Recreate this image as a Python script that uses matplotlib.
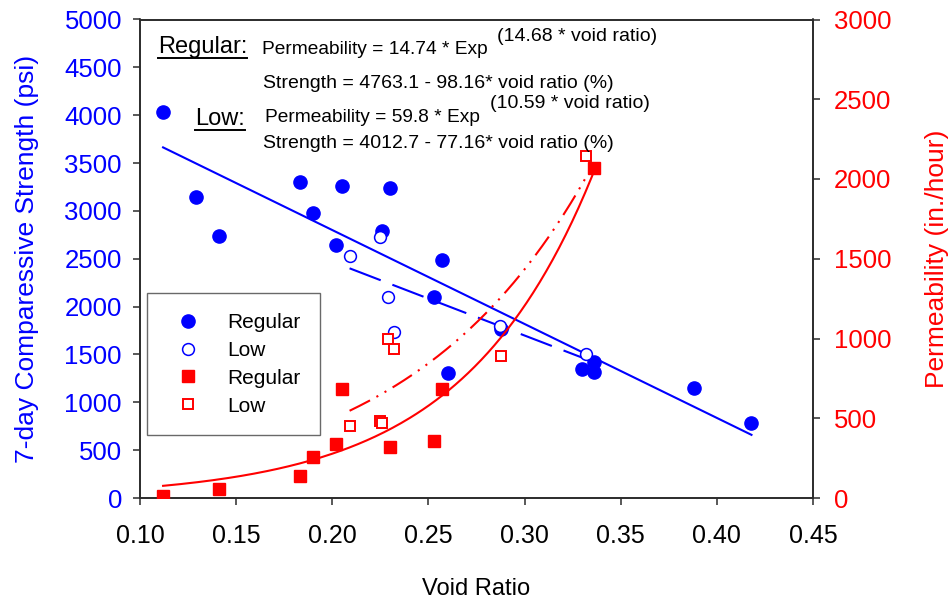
import numpy as np
import matplotlib
matplotlib.use("Agg")
import matplotlib.pyplot as plt
from matplotlib.lines import Line2D

plt.rcParams['font.family'] = ['Liberation Sans', 'DejaVu Sans']

# ---- data -------------------------------------------------------------
reg_str_vr = [0.112, 0.129, 0.141, 0.183, 0.190, 0.202, 0.205, 0.226, 0.230,
              0.253, 0.257, 0.260, 0.288, 0.330, 0.336, 0.336, 0.388, 0.418]
reg_str = [4030, 3148, 2741, 3305, 2975, 2647, 3263, 2790, 3236,
           2103, 2487, 1309, 1766, 1351, 1425, 1313, 1146, 780]

low_str_vr = [0.209, 0.225, 0.229, 0.232, 0.287, 0.332]
low_str = [2529, 2730, 2103, 1738, 1797, 1508]

reg_perm_vr = [0.112, 0.141, 0.183, 0.190, 0.202, 0.205, 0.230, 0.253, 0.257, 0.336]
reg_perm = [12, 56, 140, 255, 339, 681, 322, 355, 681, 2071]

low_perm_vr = [0.209, 0.225, 0.226, 0.229, 0.232, 0.288, 0.332]
low_perm = [451, 483, 468, 995, 936, 892, 2144]

# fitted relations (void ratio in percent for strength)
reg_str_fit = (4763.1, 98.16)
low_str_fit = (4012.7, 77.16)
reg_perm_fit = (14.74, 14.68)
low_perm_fit = (59.8, 10.59)

x_ticks = [0.10, 0.15, 0.20, 0.25, 0.30, 0.35, 0.40, 0.45]
y_ticks = list(range(0, 5001, 500))
y2_ticks = list(range(0, 3001, 500))

BLUE = '#0000FF'
RED = '#FF0000'
SPINE = '#2b2b2b'

W, H = 950, 601
fig = plt.figure(figsize=(W / 100, H / 100), dpi=100)
ax = fig.add_axes([140 / W, 1 - 498 / H, 673 / W, 478.5 / H])
ax2 = ax.twinx()

# ---- strength (left axis) ----------------------------------------------
def lin_fit(vr, coef):
    a, b = coef
    x = np.linspace(min(vr), max(vr), 100)
    return x, a - b * x * 100

x, y = lin_fit(reg_str_vr, reg_str_fit)
ax.plot(x, y, color=BLUE, lw=1.5, zorder=2)
x, y = lin_fit(low_str_vr, low_str_fit)
ax.plot(x, y, color=BLUE, lw=1.5, linestyle=(0, (16, 6)), zorder=2)

ax.plot(reg_str_vr, reg_str, 'o', color=BLUE, ms=9.5, mec=BLUE, zorder=3)
ax.plot(low_str_vr, low_str, 'o', mfc='white', mec=BLUE, ms=8.5, mew=1.1, zorder=3)

# ---- permeability (right axis) -----------------------------------------
def exp_fit(vr, coef):
    a, b = coef
    x = np.linspace(min(vr), max(vr), 200)
    return x, a * np.exp(b * x)

x, y = exp_fit(reg_perm_vr, reg_perm_fit)
ax2.plot(x, y, color=RED, lw=1.5, zorder=2)
x, y = exp_fit(low_perm_vr, low_perm_fit)
ax2.plot(x, y, color=RED, lw=1.5, linestyle=(0, (11, 3.5, 1, 3.5, 1, 3.5)), zorder=2)

ax2.plot(reg_perm_vr, reg_perm, 's', color=RED, ms=8, mec=RED, zorder=3)
ax2.plot(low_perm_vr, low_perm, 's', mfc='white', mec=RED, ms=7.5, mew=1.4, zorder=3)

# ---- axes --------------------------------------------------------------
ax.set_xlim(0.10, 0.45)
ax.set_ylim(0, 5000)
ax2.set_ylim(0, 3000)
ax.set_xticks(x_ticks)
ax.set_xticklabels([f"{t:.2f}" for t in x_ticks])
ax.set_yticks(y_ticks)
ax2.set_yticks(y2_ticks)

for a in (ax, ax2):
    for s in a.spines.values():
        s.set_color(SPINE)
        s.set_linewidth(1.2)
ax.tick_params(axis='x', direction='out', length=5, width=1.1, color=SPINE,
               labelsize=18, pad=14, labelcolor='black')
ax.tick_params(axis='y', direction='out', length=5, width=1.1, color=SPINE,
               labelsize=18.5, pad=8, labelcolor=BLUE)
ax2.tick_params(axis='y', direction='out', length=5, width=1.1, color=SPINE,
                labelsize=18.5, pad=10, labelcolor=RED)

ax.set_xlabel('Void Ratio', fontsize=17, labelpad=21)
ax.set_ylabel('7-day Comparessive Strength (psi)', fontsize=19, color=BLUE, labelpad=18)
ax2.set_ylabel('Permeability (in./hour)', fontsize=19, color=RED, labelpad=24)

# ---- legend ------------------------------------------------------------
handles = [
    Line2D([], [], ls='none', marker='o', color=BLUE, ms=9.5),
    Line2D([], [], ls='none', marker='o', mfc='white', mec=BLUE, ms=8.5, mew=1.1),
    Line2D([], [], ls='none', marker='s', color=RED, ms=8),
    Line2D([], [], ls='none', marker='s', mfc='white', mec=RED, ms=7.5, mew=1.4),
]
leg = ax2.legend(handles, ['Regular', 'Low', 'Regular', 'Low'],
                 loc='lower left', bbox_to_anchor=(0.01, 0.131),
                 fontsize=15, frameon=True, fancybox=False,
                 borderpad=0.95, labelspacing=0.42, handlelength=2.1,
                 handletextpad=0.8, borderaxespad=0)
leg.get_frame().set_edgecolor('#444444')
leg.get_frame().set_linewidth(1.0)

# ---- equations ---------------------------------------------------------
def ptext(x, y, s, size, **kw):
    return fig.text(x / W, 1 - y / H, s, fontsize=size, va='baseline', ha='left', **kw)

def underline(t, y):
    fig.canvas.draw()
    bb = t.get_window_extent(fig.canvas.get_renderer())
    fig.add_artist(Line2D([bb.x0 / W, bb.x1 / W], [1 - y / H, 1 - y / H],
                          transform=fig.transFigure, color='black', lw=1.4))

t1 = ptext(158, 53, 'Regular:', 17)
underline(t1, 57.5)
ptext(262, 54, f'Permeability = {reg_perm_fit[0]:.2f} * Exp', 13.8)
ptext(497, 41, f'({reg_perm_fit[1]:.2f} * void ratio)', 14)
ptext(263, 88, f'Strength = {reg_str_fit[0]:.1f} - {reg_str_fit[1]:.2f}* void ratio (%)', 14)

t2 = ptext(195, 125, 'Low:', 17)
underline(t2, 129.5)
ptext(265, 122, f'Permeability = {low_perm_fit[0]:.1f} * Exp', 13.8)
ptext(490, 108, f'({low_perm_fit[1]:.2f} * void ratio)', 14)
ptext(263, 148, f'Strength = {low_str_fit[0]:.1f} - {low_str_fit[1]:.2f}* void ratio (%)', 14)

fig.savefig('out.png', dpi=100)
